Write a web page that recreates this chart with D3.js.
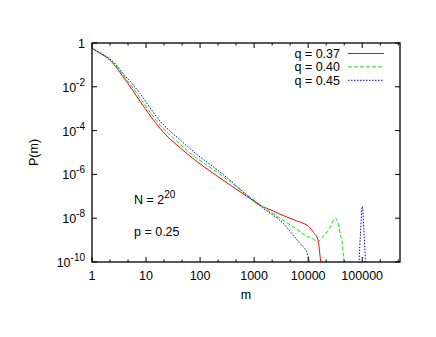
<!DOCTYPE html>
<html>
<head>
<meta charset="utf-8">
<script src="https://cdn.jsdelivr.net/npm/d3@7"></script>
<style>
  body { margin: 0; background: #fff; }
  text { font-family: "Liberation Sans", Arial, sans-serif; fill: #000; }
</style>
</head>
<body>
<div id="chart"></div>
<script>
// series: m (cluster size) and P(m)
let seriesNames = ["q = 0.37", "q = 0.40", "q = 0.45"];
let seriesColors = ["#ff0000", "#00ee00", "#0000ff"];
let seriesDash = [null, "4,2", "1.5,1.5"];

let mRed = [1, 1.41, 2.15, 3.0, 3.79, 5.5, 7.71, 11.8, 18.1, 27.7, 42.4, 60.3, 86.1, 175, 356, 724, 1466, 2300, 2985, 4571, 6100, 8054, 10500, 12330, 15240, 16370, 17100];
let pRed = [0.575, 0.339, 0.166, 0.0631, 0.0282, 0.00759, 2.24e-3, 5.01e-4, 1.26e-4, 4.17e-5, 1.66e-5, 7.94e-6, 3.98e-6, 1.12e-6, 3.31e-7, 1.02e-7, 3.31e-8, 2.1e-8, 1.55e-8, 1.0e-8, 7.6e-9, 5.89e-9, 4.0e-9, 2.4e-9, 1.0e-9, 2.57e-10, 8.9e-11];

let mGreen = [1, 1.41, 2.15, 3.0, 3.79, 5.5, 7.71, 11.8, 18.1, 27.7, 42.4, 60.3, 86.1, 175, 356, 724, 1466, 1950, 3400, 6080, 9311, 12000, 14850, 18840, 25060, 32000, 35480, 39810, 43050, 45710];
let pGreen = [0.575, 0.347, 0.174, 0.0708, 0.0339, 0.0100, 3.16e-3, 7.08e-4, 1.78e-4, 6.31e-5, 2.40e-5, 1.12e-5, 5.62e-6, 1.66e-6, 4.68e-7, 1.20e-7, 3.31e-8, 2.0e-8, 8.3e-9, 3.16e-9, 1.51e-9, 1.2e-9, 8.5e-10, 1.45e-9, 3.63e-9, 1.0e-8, 6.3e-9, 1.58e-9, 6.3e-10, 8.9e-11];

let mBlue = [1, 1.41, 2.15, 3.0, 3.79, 5.5, 7.71, 11.8, 18.1, 27.7, 42.4, 60.3, 86.1, 175, 356, 724, 1466, 3436, 5260, 7000, 9311, 10715, null, 87100, 93300, 100000, 107150, 114800];
let pBlue = [0.575, 0.355, 0.186, 0.0832, 0.0398, 0.0141, 5.0e-3, 1.12e-3, 2.75e-4, 9.55e-5, 3.80e-5, 1.78e-5, 8.32e-6, 2.24e-6, 5.50e-7, 1.15e-7, 2.82e-8, 5.89e-9, 1.70e-9, 7.08e-10, 2.95e-10, 8.9e-11, null, 8.9e-11, 2.5e-9, 3.4e-8, 3.2e-9, 8.9e-11];

let xTicks = [1, 10, 100, 1000, 10000, 100000];
let xTickLabels = ["1", "10", "100", "1000", "10000", "100000"];
let yTicks = [1, 1e-2, 1e-4, 1e-6, 1e-8, 1e-10];
let yTickExp = [null, "-2", "-4", "-6", "-8", "-10"];

let width = 436, height = 337;
let margin = {left: 92, right: 36, top: 43, bottom: 75};

let svg = d3.select("#chart").append("svg")
    .attr("width", width)
    .attr("height", height);

let x = d3.scaleLog().domain([1, 500000]).range([margin.left, width - margin.right]);
let y = d3.scaleLog().domain([1e-10, 1]).range([height - margin.bottom, margin.top]);

let x0 = x.range()[0], x1 = x.range()[1];
let y0 = y.range()[0], y1 = y.range()[1];

svg.append("clipPath").attr("id", "plot")
  .append("rect")
    .attr("x", x0).attr("y", y1)
    .attr("width", x1 - x0).attr("height", y0 - y1);

// minor x ticks at a third of each decade
let xMinor = [];
for (let k = 0; k < 6; k++) {
  xMinor.push(Math.pow(10, k + 1/3), Math.pow(10, k + 2/3));
}
xMinor = xMinor.filter(v => v < 500000);

let ticks = svg.append("g").attr("stroke", "#000").attr("stroke-width", 1);
xTicks.forEach(v => {
  ticks.append("line").attr("x1", x(v)).attr("x2", x(v)).attr("y1", y0).attr("y2", y0 - 5);
  ticks.append("line").attr("x1", x(v)).attr("x2", x(v)).attr("y1", y1).attr("y2", y1 + 5);
});
xMinor.forEach(v => {
  ticks.append("line").attr("x1", x(v)).attr("x2", x(v)).attr("y1", y0).attr("y2", y0 - 2.5);
  ticks.append("line").attr("x1", x(v)).attr("x2", x(v)).attr("y1", y1).attr("y2", y1 + 2.5);
});
yTicks.forEach(v => {
  ticks.append("line").attr("x1", x0).attr("x2", x0 + 5).attr("y1", y(v)).attr("y2", y(v));
  ticks.append("line").attr("x1", x1).attr("x2", x1 - 5).attr("y1", y(v)).attr("y2", y(v));
});

// tick labels
xTicks.forEach((v, i) => {
  svg.append("text")
    .attr("x", x(v)).attr("y", y0 + 18)
    .attr("text-anchor", "middle")
    .attr("font-size", 12.5)
    .text(xTickLabels[i]);
});
yTicks.forEach((v, i) => {
  let t = svg.append("text")
    .attr("x", 85).attr("y", y(v) + 5)
    .attr("text-anchor", "end")
    .attr("font-size", 12.5);
  if (yTickExp[i] === null) {
    t.text("1");
  } else {
    t.append("tspan").text("10");
    t.append("tspan").attr("dy", -6).attr("font-size", 10).text(yTickExp[i]);
  }
});

// curves
let line = d3.line()
    .defined(d => d[0] !== null && d[1] !== null)
    .curve(d3.curveMonotoneX)
    .x(d => x(d[0]))
    .y(d => y(d[1]));

let allSeries = [
  d3.zip(mRed, pRed),
  d3.zip(mGreen, pGreen),
  d3.zip(mBlue, pBlue)
];

let curves = svg.append("g").attr("clip-path", "url(#plot)");
allSeries.forEach((s, i) => {
  curves.append("path")
    .datum(s)
    .attr("fill", "none")
    .attr("stroke", seriesColors[i])
    .attr("stroke-width", 1)
    .attr("stroke-dasharray", seriesDash[i])
    .attr("d", line);
});

// frame
svg.append("rect")
    .attr("x", x0).attr("y", y1)
    .attr("width", x1 - x0).attr("height", y0 - y1)
    .attr("fill", "none")
    .attr("stroke", "#000")
    .attr("stroke-width", 1.3);

// legend
seriesNames.forEach((name, i) => {
  let ly = 53.5 + i * 13.4;
  svg.append("text")
    .attr("x", 340).attr("y", ly + 4.5)
    .attr("text-anchor", "end")
    .attr("font-size", 12.5)
    .text(name);
  svg.append("line")
    .attr("x1", 348).attr("x2", 384)
    .attr("y1", ly).attr("y2", ly)
    .attr("stroke", seriesColors[i])
    .attr("stroke-width", 1)
    .attr("stroke-dasharray", seriesDash[i]);
});

// annotations
let nLabel = svg.append("text")
    .attr("x", 134).attr("y", 203.5)
    .attr("font-size", 12.5);
nLabel.append("tspan").text("N = 2");
nLabel.append("tspan").attr("dy", -6).attr("font-size", 10).text("20");

svg.append("text")
    .attr("x", 134).attr("y", 236)
    .attr("font-size", 12.5)
    .text("p = 0.25");

// axis titles
svg.append("text")
    .attr("x", (x0 + x1) / 2).attr("y", 299)
    .attr("text-anchor", "middle")
    .attr("font-size", 12.5)
    .text("m");

svg.append("text")
    .attr("transform", `translate(38,${(y0 + y1) / 2}) rotate(-90)`)
    .attr("text-anchor", "middle")
    .attr("font-size", 12.5)
    .text("P(m)");
</script>
</body>
</html>
